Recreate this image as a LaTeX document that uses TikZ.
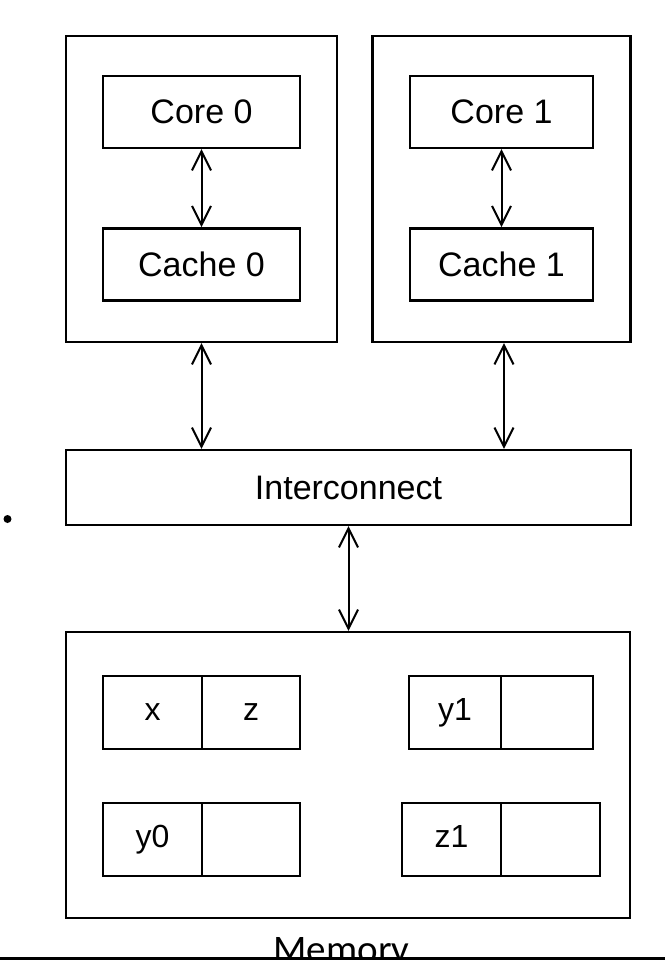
\documentclass[tikz,border=0pt]{standalone}
\usepackage{fontspec}
\setmainfont{Liberation Sans}
\newfontfamily\memfont{Carlito}
\usetikzlibrary{arrows.meta, positioning}

\begin{document}
\begin{tikzpicture}[x=1pt, y=1pt, node distance=78pt,
  outer/.style={rectangle, draw, line width=2.4pt, inner sep=0pt},
  block/.style={rectangle, draw, line width=2.4pt, inner sep=0pt, minimum height=72pt, font=\fontsize{34}{40}\selectfont},
  cell/.style={rectangle, draw, line width=2.4pt, inner sep=0pt, outer sep=0pt, minimum height=73pt, text height=23pt, text depth=7pt, font=\fontsize{32}{38}\selectfont},
  line/.style={draw, line width=2pt, {Straight Barb[length=19pt, width=19pt]}-{Straight Barb[length=19pt, width=19pt]}}]
  \clip (0,0) rectangle (665,-960);
  % processors
  \node [outer, minimum width=271pt, minimum height=306pt] (proc0) at (201.5,-189) {};
  \node [block, minimum width=197pt] (core0) at (201.5,-112) {Core 0};
  \node [block, minimum width=197pt, below=of core0] (cache0) {Cache 0};
  \node [outer, minimum width=258pt, minimum height=306pt] (proc1) at (501.5,-189) {};
  \node [block, minimum width=183pt] (core1) at (501.5,-112) {Core 1};
  \node [block, minimum width=183pt, below=of core1] (cache1) {Cache 1};
  \node [block, minimum width=565pt, minimum height=75pt] (inter) at (348.5,-487.5) {Interconnect};
  % memory
  \node [outer, minimum width=564pt, minimum height=286pt] (mem) at (348,-775) {};
  \node [cell, minimum width=99pt] (x) at (152.5,-712.5) {x};
  \node [cell, minimum width=98pt, right=0pt of x] (z) {z};
  \node [cell, minimum width=99pt] (y0) at (152.5,-839.5) {y0};
  \node [cell, minimum width=98pt, right=0pt of y0] (y0b) {};
  \node [cell, minimum width=92pt] (y1) at (455,-712.5) {y1};
  \node [cell, minimum width=92pt, right=0pt of y1] (y1b) {};
  \node [cell, minimum width=99pt] (z1) at (451.5,-839.5) {z1};
  \node [cell, minimum width=99pt, right=0pt of z1] (z1b) {};
  \node [anchor=base, font=\memfont\fontsize{39}{44}\selectfont] (memlabel) at (341.5,-962) {Memory};
  \node [circle, fill, inner sep=0pt, minimum size=8pt] (dot) at (7.5,-519) {};
  \draw [line] (core0) -- (cache0);
  \draw [line] (core1) -- (cache1);
  \draw [line] (proc0.south) -- (proc0.south |- inter.north);
  \draw [line] ([xshift=2.5pt]proc1.south) -- ([xshift=2.5pt]proc1.south |- inter.north);
  \draw [line] (inter.south) -- (inter.south |- mem.north);
  \coordinate (rulew) at (0,-958);
  \coordinate (rulee) at (665,-958);
  \draw [line width=3pt] (rulew) -- (rulee);
\end{tikzpicture}
\end{document}
